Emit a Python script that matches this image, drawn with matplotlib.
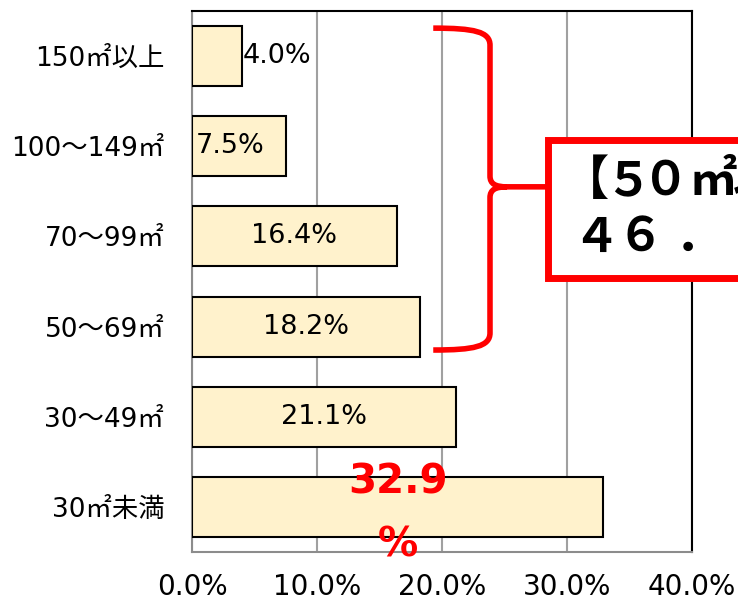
import matplotlib
matplotlib.use("Agg")
import matplotlib.pyplot as plt
from matplotlib.path import Path
from matplotlib.patches import PathPatch, Rectangle
from matplotlib.transforms import offset_copy

plt.rcParams['font.family'] = ['DejaVu Sans', 'Noto Sans CJK JP']

# Floor-area bands, bottom to top
categories = ["30㎡未満", "30～49㎡", "50～69㎡", "70～99㎡", "100～149㎡", "150㎡以上"]
shares = [32.9, 21.1, 18.2, 16.4, 7.5, 4.0]
x_ticks = [0, 10, 20, 30, 40]
x_tick_labels = ["0.0%", "10.0%", "20.0%", "30.0%", "40.0%"]
callout_title = "【５０㎡以上】"
callout_value = "４６．１％"

fig = plt.figure(figsize=(7.38, 6.02), dpi=100)
ax = fig.add_axes([192 / 738, 50 / 602, 500 / 738, 541 / 602])

ypos = list(range(len(categories)))
ax.barh(ypos, shares, height=0.665, color="#FFF2CC", edgecolor="black",
        linewidth=1.5, zorder=3)

ax.set_xlim(0, 40)
ax.set_ylim(-0.5, len(categories) - 0.5)
ax.set_xticks(x_ticks)
ax.set_xticklabels(x_tick_labels, fontsize=20)
ax.set_yticks(ypos)
ax.set_yticklabels(categories, fontsize=19)
ax.tick_params(axis="x", length=0, pad=15)
ax.tick_params(axis="y", length=0, pad=20)
ax.xaxis.grid(True, color="#A0A0A0", linewidth=1.5, zorder=0)
ax.set_axisbelow(True)
for side in ("left", "bottom"):
    ax.spines[side].set_color("#8C8C8C")
    ax.spines[side].set_linewidth(1.5)
for side in ("top", "right"):
    ax.spines[side].set_color("black")
    ax.spines[side].set_linewidth(1.5)

# Value labels
for y, v in zip(ypos, shares):
    if y == 0:
        ax.text(v / 2, y - 0.08, f"{v:.1f}\n%", ha="center", va="center",
                fontsize=29, fontweight="bold", color="#FF0000",
                linespacing=1.75, zorder=6)
    elif v < 5:
        ax.text(v + 0.05, y, f"{v:.1f}%", ha="left", va="center",
                fontsize=19.5, zorder=4)
    elif v < 10:
        ax.text(0.3, y, f"{v:.1f}%", ha="left", va="center",
                fontsize=19.5, zorder=4)
    else:
        ax.text(v / 2, y, f"{v:.1f}%", ha="center", va="center",
                fontsize=19.5, zorder=4)

# Brace grouping the bands of 50㎡ and above
xs, xv, xt = 19.3, 23.84, 28.5
top, bot, mid = 5.31, 1.74, 3.55
verts = [
    (xs, top), (22.6, top), (xv, 5.27), (xv, 5.12),
    (xv, 3.67),
    (xv, 3.58), (24.3, mid), (25.2, mid),
    (xt, mid),
    (25.2, mid),
    (24.3, mid), (xv, 3.52), (xv, 3.43),
    (xv, 1.93),
    (xv, 1.78), (22.6, bot), (xs, bot),
]
codes = [
    Path.MOVETO, Path.CURVE4, Path.CURVE4, Path.CURVE4,
    Path.LINETO,
    Path.CURVE4, Path.CURVE4, Path.CURVE4,
    Path.LINETO,
    Path.MOVETO,
    Path.CURVE4, Path.CURVE4, Path.CURVE4,
    Path.LINETO,
    Path.CURVE4, Path.CURVE4, Path.CURVE4,
]
brace = PathPatch(Path(verts, codes), facecolor="none", edgecolor="#FF0000",
                  linewidth=4, capstyle="butt", joinstyle="round",
                  clip_on=False, zorder=5)
ax.add_patch(brace)

# Callout box
box = Rectangle((xt, 2.54), 20, 1.53, facecolor="white", edgecolor="#FF0000",
                linewidth=5, clip_on=False, zorder=6)
ax.add_patch(box)

# Callout text, set glyph by glyph (cell centres in pixels from the box's left edge)
def set_glyphs(y, text, offsets, size):
    for ch, dx in zip(text, offsets):
        tr = offset_copy(ax.transData, fig=fig, x=dx, y=0, units="dots")
        ax.text(xt, y, ch, transform=tr, ha="center", va="baseline",
                fontsize=size, fontweight="bold", family="Noto Sans CJK JP",
                clip_on=False, zorder=7)

set_glyphs(3.459, callout_title, [37, 79, 117, 165, 208, 247, 286], 34)
set_glyphs(2.827, callout_value, [47, 92, 150, 215, 260], 34)

fig.savefig("out.png", dpi=100)
